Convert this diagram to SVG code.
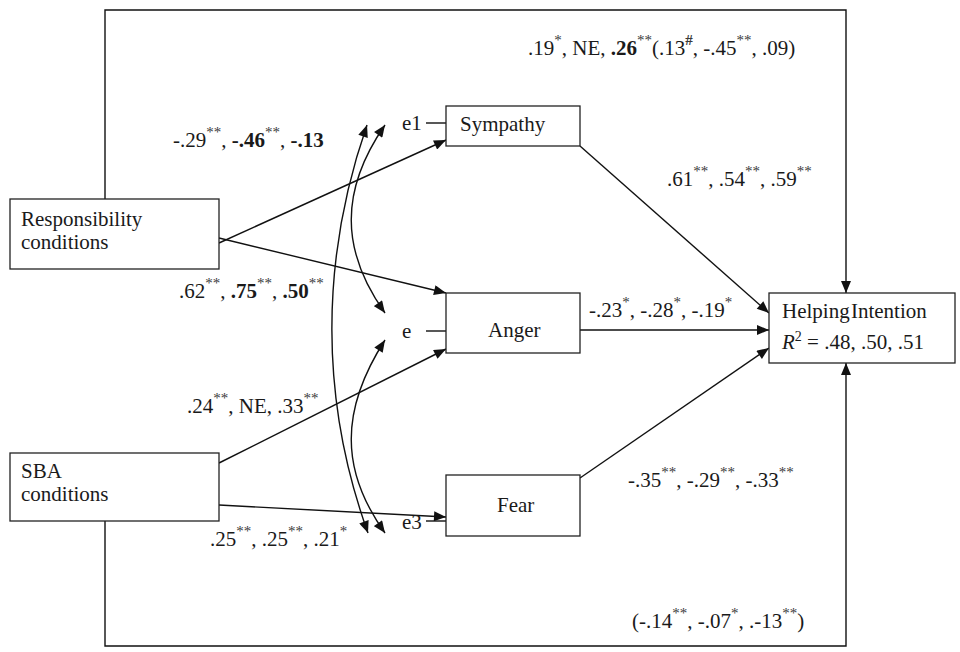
<svg xmlns="http://www.w3.org/2000/svg" width="960" height="652" viewBox="0 0 960 652">
  <defs>
    <marker id="arr" viewBox="0 0 12 10" refX="12" refY="5" markerWidth="13" markerHeight="10" markerUnits="userSpaceOnUse" orient="auto-start-reverse">
      <path d="M0,0 L12,5 L0,10 Z" fill="#111"/>
    </marker>
    <style>
      text { font-family: "Liberation Serif", "Times New Roman", serif; font-size: 21px; fill: #1a1a1a; }
      .b { font-weight: bold; }
      .s { font-size: 15px; fill: #3a3a3a; }
      .box { fill: #fff; stroke: #222; stroke-width: 1.3; }
      .ln { fill: none; stroke: #111; stroke-width: 1.4; }
      .ar { marker-end: url(#arr); }
      .dbl { marker-start: url(#arr); marker-end: url(#arr); }
    </style>
  </defs>
  <rect width="960" height="652" fill="#fff"/>

  <!-- connectors -->
  <g id="connectors">
    <!-- direct paths around the outside -->
    <polyline class="ln ar" points="105,199 105,10 846,10 846,293"/>
    <polyline class="ln ar" points="105,521 105,646 846,646 846,363"/>
    <!-- conditions to emotions -->
    <line class="ln ar" x1="219" y1="243" x2="446" y2="140"/>
    <line class="ln ar" x1="219" y1="238" x2="446" y2="293"/>
    <line class="ln ar" x1="219" y1="463" x2="446" y2="349"/>
    <line class="ln ar" x1="219" y1="505" x2="446" y2="517"/>
    <!-- emotions to helping -->
    <line class="ln ar" x1="580" y1="146" x2="769" y2="313"/>
    <line class="ln ar" x1="580" y1="330" x2="769" y2="330"/>
    <line class="ln ar" x1="580" y1="478" x2="769" y2="348"/>
    <!-- residual ticks -->
    <line class="ln" x1="426" y1="123" x2="446" y2="123"/>
    <line class="ln" x1="426" y1="331" x2="446" y2="331"/>
    <line class="ln" x1="426" y1="521" x2="446" y2="521"/>
    <!-- residual covariances -->
    <path class="ln dbl" d="M367,125 C320,260 320,400 368,533"/>
    <path class="ln dbl" d="M385,125 C340,190 340,250 385,313"/>
    <path class="ln dbl" d="M385,340 C340,410 340,470 385,533"/>
  </g>

  <g id="responsibility">
    <rect class="box" x="10" y="199" width="209" height="70"/>
    <text x="21" y="226">Responsibility</text>
    <text x="21" y="249">conditions</text>
  </g>
  <g id="sba">
    <rect class="box" x="10" y="453" width="209" height="68"/>
    <text x="21" y="478">SBA</text>
    <text x="21" y="501">conditions</text>
  </g>
  <g id="sympathy">
    <rect class="box" x="446" y="106" width="134" height="40"/>
    <text x="460" y="131">Sympathy</text>
  </g>
  <g id="anger">
    <rect class="box" x="446" y="293" width="134" height="60"/>
    <text x="488" y="337">Anger</text>
  </g>
  <g id="fear">
    <rect class="box" x="446" y="475" width="134" height="61"/>
    <text x="497" y="512">Fear</text>
  </g>
  <g id="helping">
    <rect class="box" x="769" y="293" width="186" height="70"/>
    <text x="782" y="318" word-spacing="-4">Helping Intention</text>
    <text x="782" y="349"><tspan font-style="italic">R</tspan><tspan font-size="14" dy="-8">2</tspan><tspan dy="8"> = .48, .50, .51</tspan></text>
  </g>
  <g id="residuals">
    <text x="402" y="130">e1</text>
    <text x="402" y="338">e</text>
    <text x="402" y="529">e3</text>
  </g>

  <g id="coefficients">
    <text x="528" y="55">.19<tspan class="s" dy="-10">*</tspan><tspan dy="10">,  NE, </tspan><tspan class="b">.26</tspan><tspan class="s" dy="-10">**</tspan><tspan dy="10">(.13</tspan><tspan class="s b" dy="-10">#</tspan><tspan dy="10">,  -.45</tspan><tspan class="s" dy="-10">**</tspan><tspan dy="10">, .09)</tspan></text>
    <text x="173" y="147">-.29<tspan class="s" dy="-10">**</tspan><tspan dy="10">, </tspan><tspan class="b">-.46</tspan><tspan class="s" dy="-10">**</tspan><tspan dy="10">,  </tspan><tspan class="b">-.13</tspan></text>
    <text x="179" y="298">.62<tspan class="s" dy="-10">**</tspan><tspan dy="10">, </tspan><tspan class="b">.75</tspan><tspan class="s" dy="-10">**</tspan><tspan dy="10">, </tspan><tspan class="b">.50</tspan><tspan class="s" dy="-10">**</tspan></text>
    <text x="187" y="413">.24<tspan class="s" dy="-10">**</tspan><tspan dy="10">,  NE, .33</tspan><tspan class="s" dy="-10">**</tspan></text>
    <text x="210" y="546">.25<tspan class="s" dy="-10">**</tspan><tspan dy="10">, .25</tspan><tspan class="s" dy="-10">**</tspan><tspan dy="10">, .21</tspan><tspan class="s" dy="-10">*</tspan></text>
    <text x="667" y="186">.61<tspan class="s" dy="-10">**</tspan><tspan dy="10">,  .54</tspan><tspan class="s" dy="-10">**</tspan><tspan dy="10">, .59</tspan><tspan class="s" dy="-10">**</tspan></text>
    <text x="589" y="317">-.23<tspan class="s" dy="-10">*</tspan><tspan dy="10">,  -.28</tspan><tspan class="s" dy="-10">*</tspan><tspan dy="10">, -.19</tspan><tspan class="s" dy="-10">*</tspan></text>
    <text x="628" y="487">-.35<tspan class="s" dy="-10">**</tspan><tspan dy="10">, -.29</tspan><tspan class="s" dy="-10">**</tspan><tspan dy="10">, -.33</tspan><tspan class="s" dy="-10">**</tspan></text>
    <text x="632" y="628">(-.14<tspan class="s" dy="-10">**</tspan><tspan dy="10">,  -.07</tspan><tspan class="s" dy="-10">*</tspan><tspan dy="10">, .-13</tspan><tspan class="s" dy="-10">**</tspan><tspan dy="10">)</tspan></text>
  </g>
</svg>
